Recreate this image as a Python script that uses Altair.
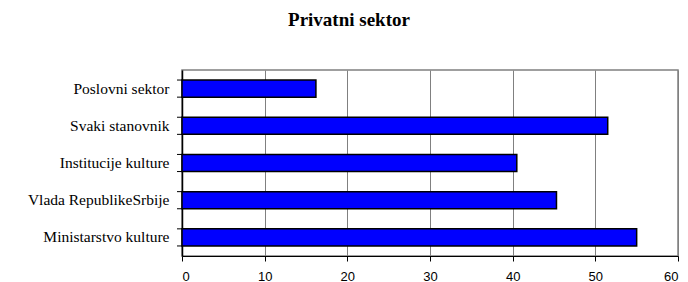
import altair as alt
import pandas as pd

categories = ["Poslovni sektor", "Svaki stanovnik", "Institucije kulture",
              "Vlada RepublikeSrbije", "Ministarstvo kulture"]
values = [16.2, 51.5, 40.5, 45.3, 55.0]
x_ticks = [0, 10, 20, 30, 40, 50, 60]

df = pd.DataFrame({"cat": categories, "val": values})

yscale = alt.Scale(domain=categories, paddingInner=0.54, paddingOuter=0.27)

bars = alt.Chart(df).mark_bar(color="#0000FF", stroke="black", strokeWidth=1.5).encode(
    x=alt.X("val:Q", scale=alt.Scale(domain=[0, 60], nice=False),
            axis=alt.Axis(values=x_ticks, title=None, grid=True, gridColor="#808080",
                          gridWidth=1, gridOpacity=1, domainColor="black", tickColor="black",
                          tickSize=5, labelFont="Liberation Sans", labelFontSize=13,
                          labelColor="black", labelPadding=9, format="d")),
    y=alt.Y("cat:N", sort=categories, scale=yscale,
            axis=alt.Axis(title=None, ticks=False, domainColor="black", domainWidth=1.5,
                          labelFont="Liberation Serif", labelFontSize=15.5, labelColor="black",
                          labelPadding=13, labelLimit=300)),
)

tick_top = alt.Chart(df).mark_rule(color="black", strokeWidth=1).encode(
    x=alt.value(-5), x2=alt.value(0),
    y=alt.Y("cat:N", sort=categories, scale=yscale, bandPosition=0),
)
tick_bot = alt.Chart(df).mark_rule(color="black", strokeWidth=1).encode(
    x=alt.value(-5), x2=alt.value(0),
    y=alt.Y("cat:N", sort=categories, scale=yscale, bandPosition=1),
)

chart = alt.layer(bars, tick_top, tick_bot).properties(
    width=496, height=186,
    title=alt.TitleParams("Privatni sektor", font="Liberation Serif", fontSize=19,
                          fontWeight="bold", color="black", anchor="middle", offset=40,
                          dx=-81),
    autosize=alt.AutoSizeParams(type="none"),
    padding={"left": 174, "top": 62, "right": 2, "bottom": 30},
).configure_view(stroke="#808080", strokeWidth=1.5)

chart.save("out.html", embed_options={"renderer": "svg", "actions": False})
